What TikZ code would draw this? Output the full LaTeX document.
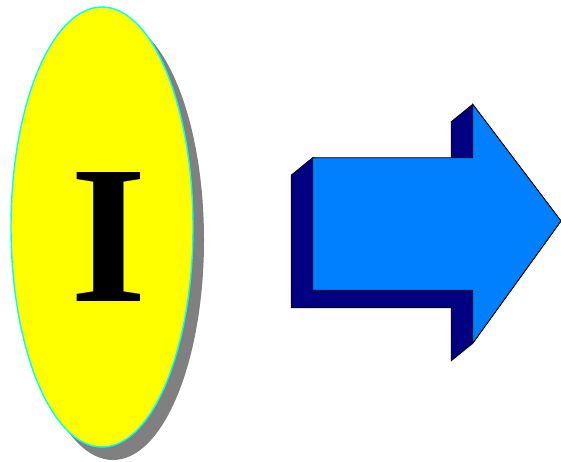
\documentclass[tikz,border=0pt]{standalone}
\usepackage{fontspec}
\setmainfont{Liberation Serif}
\usetikzlibrary{shapes.geometric,shadows}
\definecolor{arrowfront}{RGB}{0,128,255}
\definecolor{arrowback}{RGB}{0,0,128}
\definecolor{shadowgray}{RGB}{128,128,128}
\definecolor{ovalfill}{RGB}{255,255,0}
\definecolor{ovalline}{RGB}{0,255,255}

\begin{document}
\begin{tikzpicture}[x=1pt,y=-1pt]
\tikzstyle{oval}=[ellipse,draw=ovalline,line width=1.4pt,fill=ovalfill,minimum width=182pt,minimum height=440pt,inner sep=0pt,drop shadow={shadow xshift=11pt,shadow yshift=-13pt,fill=shadowgray,opacity=1}]
\tikzstyle{face}=[draw=black,line width=0.8pt,line join=miter]
\useasboundingbox (0,0) rectangle (561,461);
% oval with the letter
\node[oval] (oval) at (102,227) {};
\node[anchor=base,inner sep=0pt,font=\fontsize{197}{197}\selectfont\bfseries] (letter) at (109,301) {I};
% block arrow, front corners
\coordinate (a) at (312.7,157.7);
\coordinate (b) at (472.7,157.7);
\coordinate (c) at (472.7,104.3);
\coordinate (d) at (561,221);
\coordinate (e) at (472.7,343.3);
\coordinate (f) at (472.7,290.3);
\coordinate (g) at (312.7,290.3);
\tikzstyle{back}=[shift={(-21.5,17.5)}]
% depth
\fill[face,fill=arrowback] (a) -- ([back]a) -- ([back]g) -- ([back]f) -- ([back]e) -- (e) -- (d) -- (c) -- ([back]c) -- ([back]c |- b) -- cycle;
% front
\fill[face,fill=arrowfront] (a) -- (b) -- (c) -- (d) -- (e) -- (f) -- (g) -- cycle;
\end{tikzpicture}
\end{document}
